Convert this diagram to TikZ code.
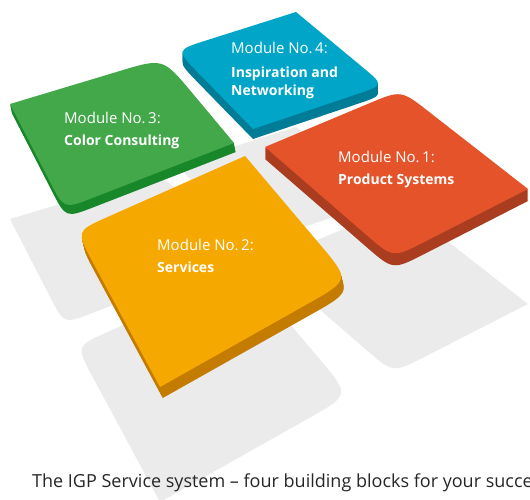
\documentclass[tikz,border=0pt]{standalone}
\usepackage{fontspec}
\setmainfont{Open Sans}
\usetikzlibrary{calc}
\usetikzlibrary{positioning}

\definecolor{greentop}{RGB}{67,168,74}
\definecolor{greenside}{RGB}{24,135,42}
\definecolor{bluetop}{RGB}{0,165,200}
\definecolor{blueside}{RGB}{0,124,150}
\definecolor{redtop}{RGB}{229,83,42}
\definecolor{redside}{RGB}{170,60,32}
\definecolor{orangetop}{RGB}{245,168,0}
\definecolor{orangeside}{RGB}{196,124,0}
\definecolor{shadowgray}{RGB}{235,235,235}

\tikzstyle{modno}=[white, anchor=base west, inner sep=0pt, font=\fontsize{15}{18}\selectfont]
\tikzstyle{modname}=[white, anchor=base west, inner sep=0pt, font=\fontsize{14}{17}\selectfont\bfseries]
\tikzstyle{caption}=[black!85, anchor=base west, inner sep=0pt, font=\fontsize{18}{22}\selectfont]

% tile: sharp corner #1, rounded #2 (radius #5), sharp #3, rounded #4 (radius #6), fill #7
\newcommand{\tilepath}[7]{\fill[#7] (#1) -- ($(#2)!#5!(#1)$) .. controls (#2) .. ($(#2)!#5!(#3)$)
    -- (#3) -- ($(#4)!#6!(#3)$) .. controls (#4) .. ($(#4)!#6!(#1)$) -- cycle;}

\begin{document}
\begin{tikzpicture}[x=1pt, y=-1pt]

    \useasboundingbox (0,0) rectangle (530,499);
    \clip (0,0) rectangle (530,499);

    % corners of the four tiles
    \coordinate (gL) at (10,104);  \coordinate (gT) at (163,58);
    \coordinate (gR) at (234,143); \coordinate (gB) at (64,209);
    \coordinate (bT) at (296,12);  \coordinate (bL) at (176,50);
    \coordinate (bB) at (253,129); \coordinate (bR) at (384,85);
    \coordinate (rL) at (265,147); \coordinate (rT) at (401,90);
    \coordinate (rR) at (528,189); \coordinate (rB) at (393,258);
    \coordinate (oT) at (245,156); \coordinate (oL) at (76,231);
    \coordinate (oB) at (160,387); \coordinate (oR) at (350,280);

    % shadows on the floor
    \begin{scope}[transform canvas={yshift=-115pt}]
        \tilepath{bT}{bL}{bB}{bR}{32pt}{28pt}{shadowgray}
        \tilepath{gL}{gT}{gR}{gB}{45pt}{30pt}{shadowgray}
        \tilepath{rL}{rT}{rR}{rB}{35pt}{35pt}{shadowgray}
        \tilepath{oT}{oL}{oB}{oR}{35pt}{48pt}{shadowgray}
    \end{scope}

    % module 4
    \foreach \dz in {1,...,10}{
        \begin{scope}[transform canvas={yshift=-\dz pt}]
            \tilepath{bT}{bL}{bB}{bR}{32pt}{28pt}{blueside}
        \end{scope}}
    \tilepath{bT}{bL}{bB}{bR}{32pt}{28pt}{bluetop}

    % module 3
    \foreach \dz in {1,...,9}{
        \begin{scope}[transform canvas={yshift=-\dz pt, xshift=0.2*\dz pt}]
            \tilepath{gL}{gT}{gR}{gB}{45pt}{30pt}{greenside}
        \end{scope}}
    \tilepath{gL}{gT}{gR}{gB}{45pt}{30pt}{greentop}

    % module 1
    \foreach \dz in {1,...,12}{
        \begin{scope}[transform canvas={yshift=-\dz pt}]
            \tilepath{rL}{rT}{rR}{rB}{35pt}{35pt}{redside}
        \end{scope}}
    \tilepath{rL}{rT}{rR}{rB}{35pt}{35pt}{redtop}

    % module 2
    \foreach \dz in {1,...,11}{
        \begin{scope}[transform canvas={yshift=-\dz pt, xshift=0.25*\dz pt}]
            \tilepath{oT}{oL}{oB}{oR}{35pt}{48pt}{orangeside}
        \end{scope}}
    \tilepath{oT}{oL}{oB}{oR}{35pt}{48pt}{orangetop}

    % labels
    \node[modno] (no4) at (231,53) {Module No.\,4:};
    \node[modname] (name4a) at (231,77) {Inspiration and};
    \node[modname] (name4b) at (231,95) {Networking};

    \node[modno] (no3) at (64,123) {Module No.\,3:};
    \node[modname] (name3) at (64,145) {Color Consulting};

    \node[modno] (no1) at (338,162) {Module No.\,1:};
    \node[modname] (name1) at (338,184) {Product Systems};

    \node[modno] (no2) at (157,250) {Module No.\,2:};
    \node[modname] (name2) at (157,272) {Services};

    \node[caption] (cap) at (32,487) {The IGP Service system – four building blocks for your succe};

\end{tikzpicture}
\end{document}
